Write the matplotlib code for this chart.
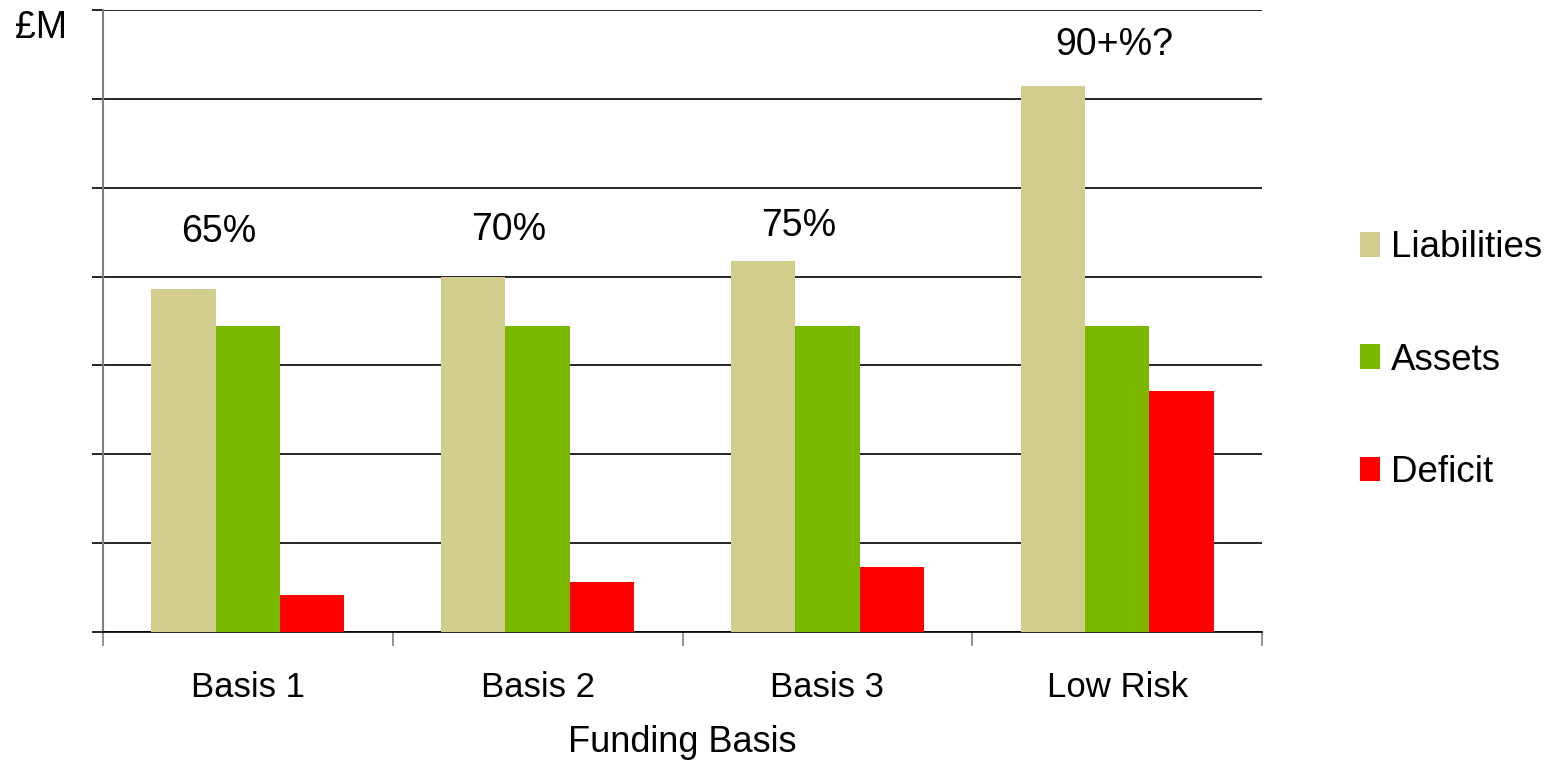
import matplotlib.pyplot as plt
import numpy as np

plt.rcParams['font.family'] = ['Liberation Sans', 'DejaVu Sans']

# data #
########

bases = ['Basis 1', 'Basis 2', 'Basis 3', 'Low Risk']
liabilities = [3.86, 4.00, 4.17, 6.15]
assets = [3.44, 3.44, 3.44, 3.44]
deficit = [0.42, 0.56, 0.73, 2.71]
funding_labels = ['65%', '70%', '75%', '90+%?']

# where the funding level notes sit (offset from group centre, height)
label_offsets = [-0.1, -0.1, -0.1, -0.01]
label_heights = [4.50, 4.52, 4.57, 6.61]

colours = ['#D3CD8D', '#7AB800', '#FF0000']
series_names = ['Liabilities', 'Assets', 'Deficit']

# plot #
########

fig = plt.figure(figsize=(15.54, 7.62), dpi=100)
ax = fig.add_axes([0.0663, 0.1706, 0.7458, 0.8163])

x = np.arange(len(bases))
w = 0.222
for k, (vals, c, name) in enumerate(zip([liabilities, assets, deficit], colours, series_names)):
    ax.bar(x + (k - 1) * w, vals, width=w, color=c, label=name, zorder=3)

for xi, lab, dx, h in zip(x, funding_labels, label_offsets, label_heights):
    ax.text(xi + dx, h, lab, ha='center', va='center', fontsize=27)

ax.set_xlim(-0.5, len(bases) - 0.5)
ax.set_ylim(0, 7)
ax.set_yticks(np.arange(0, 8))
ax.set_yticklabels([])
ax.yaxis.grid(True, color='black', linewidth=1.2, zorder=0)
ax.tick_params(axis='y', length=8, width=1.2, color='black')

ax.set_xticks(x)
ax.set_xticklabels(bases, fontsize=25)
ax.set_xticks(np.arange(-0.5, len(bases)), minor=True)
ax.tick_params(axis='x', which='major', length=0, pad=28)
ax.tick_params(axis='x', which='minor', length=10, width=1.2, color='#808080')

for s in ['top', 'right']:
    ax.spines[s].set_visible(False)
ax.spines['left'].set_color('#808080')
ax.spines['left'].set_linewidth(1.5)
ax.spines['bottom'].set_color('black')
ax.spines['bottom'].set_linewidth(1.2)

fig.text(0.439, 0.026, 'Funding Basis', fontsize=26, ha='center', va='center')
fig.text(0.0097, 0.963, '£M', fontsize=27, ha='left', va='center')

leg = ax.legend(loc='center left', bbox_to_anchor=(1.056, 0.437), frameon=False,
                fontsize=26.5, handlelength=0.55, handleheight=0.65,
                handletextpad=0.3, labelspacing=2.1)

fig.savefig('out.png', dpi=100)
